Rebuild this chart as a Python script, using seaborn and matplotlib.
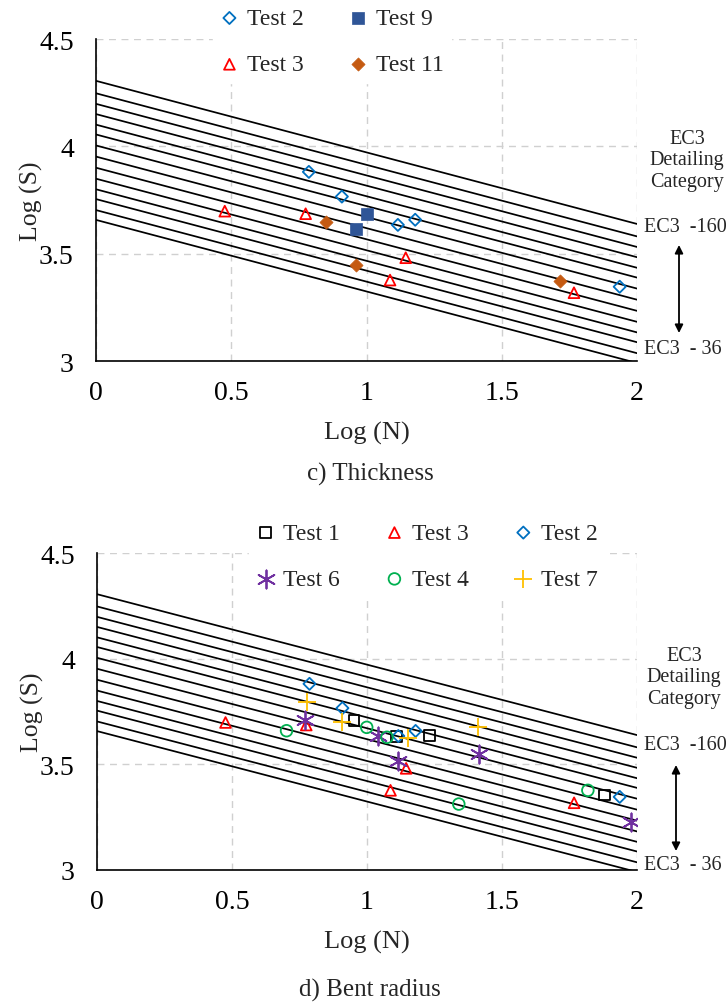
import numpy as np
import pandas as pd
import matplotlib
matplotlib.use("Agg")
import matplotlib.pyplot as plt
import seaborn as sns

# ---- EC3 detail categories (S-N curves, slope m = 3) ----
ec3_categories = [160, 140, 125, 112, 100, 90, 80, 71, 63, 56, 50, 45, 40, 36]
curve_offset = 2.101          # shift of log(delta sigma_c) onto the Log(S) scale
curve_slope = -1.0 / 3.0
logn_range = [0.0, 2.0]

# ---- c) Thickness ----
thk_test2_x = [0.787, 0.909, 1.116, 1.180, 1.936]
thk_test2_y = [3.881, 3.766, 3.634, 3.658, 3.346]
thk_test9_x = [1.001, 0.961]
thk_test9_y = [3.687, 3.613]
thk_test3_x = [0.476, 0.775, 1.145, 1.087, 1.767]
thk_test3_y = [3.698, 3.686, 3.481, 3.377, 3.318]
thk_test11_x = [0.850, 0.961, 1.716]
thk_test11_y = [3.648, 3.445, 3.372]

# ---- d) Bent radius ----
br_test1_x = [0.952, 1.108, 1.231, 1.881]
br_test1_y = [3.706, 3.631, 3.637, 3.355]
br_test3_x = [0.476, 0.775, 1.145, 1.087, 1.767]
br_test3_y = [3.698, 3.686, 3.481, 3.377, 3.318]
br_test2_x = [0.787, 0.909, 1.116, 1.180, 1.936]
br_test2_y = [3.881, 3.766, 3.634, 3.658, 3.346]
br_test6_x = [0.772, 1.040, 1.114, 1.416, 1.976]
br_test6_y = [3.711, 3.635, 3.517, 3.547, 3.225]
br_test4_x = [0.702, 0.999, 1.074, 1.340, 1.818]
br_test4_y = [3.659, 3.675, 3.628, 3.312, 3.377]
br_test7_x = [0.776, 0.906, 1.150, 1.411]
br_test7_y = [3.793, 3.699, 3.623, 3.675]

x_ticks = [0, 0.5, 1, 1.5, 2]
x_tick_labels = ["0", "0.5", "1", "1.5", "2"]
y_ticks = [3, 3.5, 4, 4.5]
y_tick_labels = ["3", "3.5", "4", "4.5"]

sns.set_theme(style="white")
plt.rcParams["font.family"] = ["Liberation Serif", "DejaVu Serif"]

W, H = 727, 1003
fig = plt.figure(figsize=(W / 100, H / 100), dpi=100)


def fx(px):
    return px / W


def fy(py):
    return 1 - py / H


# marker style of each test series
STY = {
    "Test 1": dict(marker="s", color="#000000", filled=False, s=60),
    "Test 2": dict(marker="D", color="#0070C0", filled=False, s=38),
    "Test 3": dict(marker="^", color="#FF0000", filled=False, s=60),
    "Test 4": dict(marker="o", color="#00B050", filled=False, s=70),
    "Test 6": dict(marker=(6, 2, 0), color="#7030A0", filled=False, s=170),
    "Test 7": dict(marker="+", color="#FFC000", filled=False, s=180),
    "Test 9": dict(marker="s", color="#2F5597", filled=True, s=75),
    "Test 11": dict(marker="D", color="#C55A11", filled=True, s=45),
}


def draw_panel(ax, series, legend_order, ncol, legend_anchor, title, title_y, ann):
    # S-N curves
    xs = np.array(logn_range)
    for cat in ec3_categories:
        c = np.log10(cat) + curve_offset
        sns.lineplot(x=xs, y=c + curve_slope * xs, ax=ax, color="black",
                     linewidth=1.25, legend=False, zorder=2)

    for name, x, y in series:
        st = STY[name]
        kw = dict(x=x, y=y, ax=ax, marker=st["marker"], s=st["s"], zorder=4,
                  label=name, legend=False)
        if st["filled"]:
            kw.update(facecolor=st["color"], edgecolor=st["color"], linewidth=0.5)
        elif st["marker"] == "+" or isinstance(st["marker"], tuple):
            kw.update(color=st["color"], linewidth=1.3)
        else:
            kw.update(facecolor="none", edgecolor=st["color"], linewidth=1.3)
        sns.scatterplot(**kw)

    ax.set_xlim(0, 2)
    ax.set_ylim(3, 4.5)
    ax.set_xticks(x_ticks)
    ax.set_xticklabels(x_tick_labels)
    ax.set_yticks(y_ticks)
    ax.set_yticklabels(y_tick_labels)
    ax.grid(True, color="#D0D0D0", linestyle=(0, (5, 4)), linewidth=1.0)
    ax.set_axisbelow(True)
    for side in ("top", "right"):
        ax.spines[side].set_visible(False)
    for side in ("left", "bottom"):
        ax.spines[side].set_color("black")
        ax.spines[side].set_linewidth(1.2)
    ax.tick_params(axis="both", direction="inout", length=12, width=1.2,
                   colors="black", labelsize=20)
    ax.tick_params(axis="x", pad=8)
    ax.tick_params(axis="y", pad=10)
    ax.set_xlabel("Log (N)", fontsize=19, labelpad=11)
    ax.set_ylabel("Log (S)", fontsize=18.5, labelpad=-3)

    h, l = ax.get_legend_handles_labels()
    hmap = dict(zip(l, h))
    leg = ax.legend([hmap[n] for n in legend_order], legend_order, ncol=ncol,
                    loc="center", bbox_to_anchor=legend_anchor, fontsize=17,
                    frameon=True, facecolor="white", edgecolor="white",
                    framealpha=1.0, handlelength=0.8, handletextpad=0.35,
                    columnspacing=1.9, labelspacing=1.05, borderpad=0.3)
    leg.set_zorder(6)

    fig.text(fx(370), fy(title_y), title, ha="center", va="center", fontsize=18)

    # category annotation at the right side
    cx, y_head, y160, y_a1, y_a2, y36, ax_x = ann
    fig.text(fx(cx), fy(y_head), "EC3\nDetailing\nCategory", ha="center",
             va="center", fontsize=14.5, linespacing=1.2)
    fig.text(fx(644), fy(y160), "EC3  -160", ha="left", va="center", fontsize=14.5)
    fig.text(fx(644), fy(y36), "EC3  - 36", ha="left", va="center", fontsize=14.5)
    ax.annotate("", xy=(fx(ax_x), fy(y_a1)), xytext=(fx(ax_x), fy(y_a2)),
                xycoords="figure fraction", textcoords="figure fraction",
                arrowprops=dict(arrowstyle="<|-|>", color="black", lw=1.3,
                                mutation_scale=12, shrinkA=0, shrinkB=0))


ax1 = fig.add_axes([fx(96), fy(362), fx(637) - fx(96), fy(40) - fy(362)])
draw_panel(
    ax1,
    [("Test 2", thk_test2_x, thk_test2_y), ("Test 3", thk_test3_x, thk_test3_y),
     ("Test 9", thk_test9_x, thk_test9_y), ("Test 11", thk_test11_x, thk_test11_y)],
    ["Test 2", "Test 3", "Test 9", "Test 11"], 2, (0.436, 0.992),
    "c) Thickness", 474,
    (687, 161, 228, 246, 334, 350, 679),
)

ax2 = fig.add_axes([fx(97), fy(871), fx(637) - fx(97), fy(554) - fy(871)])
draw_panel(
    ax2,
    [("Test 1", br_test1_x, br_test1_y), ("Test 3", br_test3_x, br_test3_y),
     ("Test 2", br_test2_x, br_test2_y), ("Test 6", br_test6_x, br_test6_y),
     ("Test 4", br_test4_x, br_test4_y), ("Test 7", br_test7_x, br_test7_y)],
    ["Test 1", "Test 6", "Test 3", "Test 4", "Test 2", "Test 7"], 3, (0.611, 0.99),
    "d) Bent radius", 990,
    (684, 678, 746, 766, 852, 866, 676),
)

fig.savefig("out.png", dpi=100, facecolor="white")
